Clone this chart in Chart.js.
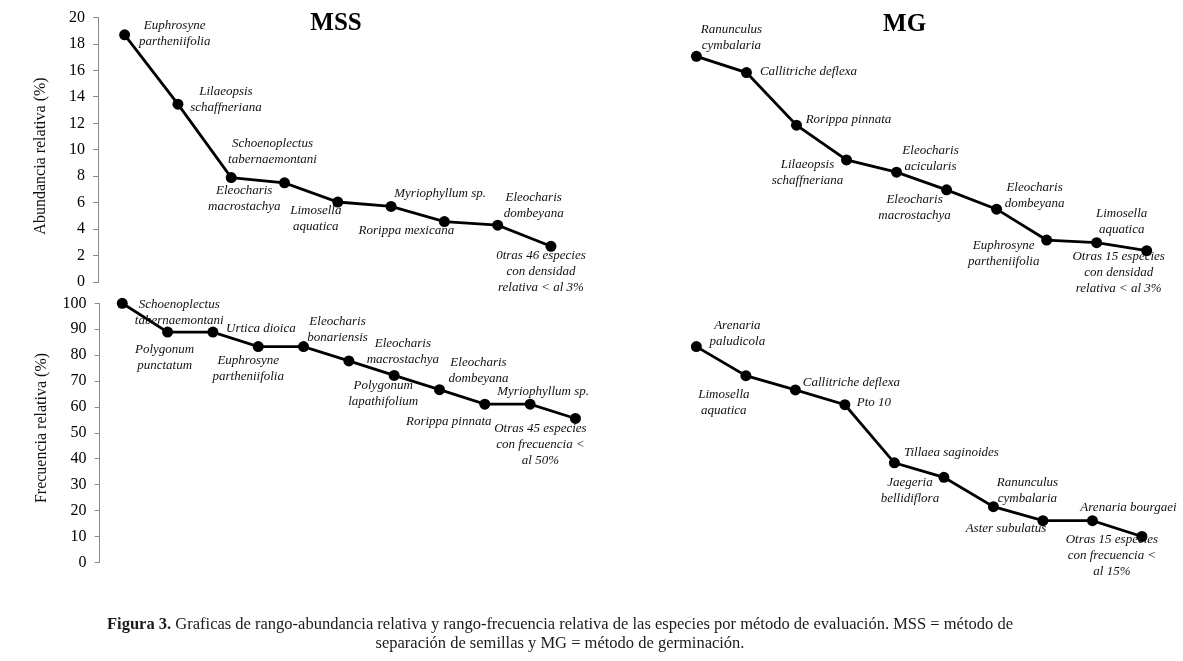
<!DOCTYPE html>
<html>
<head>
<meta charset="utf-8">
<script src="https://cdn.jsdelivr.net/npm/chart.js@4.4.1/dist/chart.umd.min.js"></script>
<style>
html,body{margin:0;padding:0;background:#fff;}
#wrap{position:relative;width:1183px;height:661px;overflow:hidden;background:#fff;}
canvas{position:absolute;left:0;top:0;}
#cap{position:absolute;left:60px;top:615px;width:1000px;text-align:center;font-family:"Liberation Serif",serif;font-size:16.5px;line-height:18.5px;color:#1a1a1a;white-space:nowrap;}
</style>
</head>
<body>
<div id="wrap">
<canvas id="c1" width="1183" height="661"></canvas>
<canvas id="c2" width="1183" height="661"></canvas>
<canvas id="c3" width="1183" height="661"></canvas>
<canvas id="c4" width="1183" height="661"></canvas>
<div id="cap"><b>Figura 3.</b> Graficas de rango-abundancia relativa y rango-frecuencia relativa de las especies por método de evaluación. MSS = método de<br>separación de semillas y MG = método de germinación.</div>
</div>
<script>
// ---------- DATA ----------
const mssAbunCategories = [
  ["Euphrosyne","partheniifolia"],
  ["Lilaeopsis","schaffneriana"],
  ["Eleocharis","macrostachya"],
  ["Schoenoplectus","tabernaemontani"],
  ["Limosella","aquatica"],
  ["Myriophyllum sp."],
  ["Rorippa mexicana"],
  ["Eleocharis","dombeyana"],
  ["0tras 46 especies","con densidad","relativa < al 3%"]
];
const mssAbunValues = [18.7, 13.45, 7.9, 7.5, 6.05, 5.72, 4.57, 4.3, 2.7];

const mgAbunCategories = [
  ["Ranunculus","cymbalaria"],
  ["Callitriche deflexa"],
  ["Rorippa pinnata"],
  ["Lilaeopsis","schaffneriana"],
  ["Eleocharis","acicularis"],
  ["Eleocharis","macrostachya"],
  ["Eleocharis","dombeyana"],
  ["Euphrosyne","partheniifolia"],
  ["Limosella","aquatica"],
  ["Otras 15 especies","con densidad","relativa < al 3%"]
];
const mgAbunValues = [16.95, 15.73, 11.78, 9.17, 8.25, 6.92, 5.47, 3.15, 2.95, 2.35];

const mssFreqCategories = [
  ["Schoenoplectus","tabernaemontani"],
  ["Polygonum","punctatum"],
  ["Urtica dioica"],
  ["Euphrosyne","partheniifolia"],
  ["Eleocharis","bonariensis"],
  ["Eleocharis","macrostachya"],
  ["Polygonum","lapathifolium"],
  ["Eleocharis","dombeyana"],
  ["Rorippa pinnata"],
  ["Myriophyllum sp."],
  ["Otras 45 especies","con frecuencia <","al 50%"]
];
const mssFreqValues = [100, 88.9, 88.9, 83.3, 83.3, 77.8, 72.2, 66.7, 61.1, 61.1, 55.6];

const mgFreqCategories = [
  ["Arenaria","paludicola"],
  ["Limosella","aquatica"],
  ["Callitriche deflexa"],
  ["Pto 10"],
  ["Tillaea saginoides"],
  ["Jaegeria","bellidiflora"],
  ["Ranunculus","cymbalaria"],
  ["Aster subulatus"],
  ["Arenaria bourgaei"],
  ["Otras 15 especies","con frecuencia <","al 15%"]
];
const mgFreqValues = [83.3, 72.1, 66.6, 60.9, 38.5, 32.9, 21.6, 16.2, 16.2, 10.1];

const abunTicks = [0, 2, 4, 6, 8, 10, 12, 14, 16, 18, 20];
const freqTicks = [0, 10, 20, 30, 40, 50, 60, 70, 80, 90, 100];

// ---------- LABEL PLACEMENT (offsets from each point, px) ----------
const mssAbunOffsets = [[50,-9],[48,-13],[13,13],[-12,-39],[-22,9],[49,-13],[-38,9],[36,-28],[-10,9]];
const mgAbunOffsets  = [[35,-27],[62,-1],[52,-6],[-39,5],[34,-22],[-32,10],[38,-22],[-43,6],[25,-29],[-28,6]];
const mssFreqOffsets = [[57,1],[-3,17],[48,-4],[-10,14],[34,-25],[54,-17],[-11,10],[39,-27],[-36,17],[13,-13],[-35,10]];
const mgFreqOffsets  = [[41,-21],[-22,19],[56,-7],[29,-2],[57,-10],[-34,5],[34,-24],[-37,8],[36,-13],[-30,3]];

const SERIF = '"Liberation Serif", "Times New Roman", serif';
const W = 1183, H = 661, AXW = 60;

function annotPlugin(cfg) {
  return {
    id: 'annot_' + Math.random().toString(36).slice(2),
    afterDatasetsDraw(chart) {
      const ctx = chart.ctx;
      const meta = chart.getDatasetMeta(0);
      ctx.save();
      ctx.fillStyle = '#111';
      ctx.textAlign = 'center';
      ctx.textBaseline = 'middle';
      ctx.font = 'italic 13px ' + SERIF;
      meta.data.forEach((pt, i) => {
        const lines = cfg.labels[i];
        const off = cfg.offsets[i];
        lines.forEach((ln, j) => ctx.fillText(ln, pt.x + off[0], pt.y + off[1] + j * 16));
      });
      if (cfg.title) {
        ctx.fillStyle = '#000';
        ctx.font = 'bold 25px ' + SERIF;
        ctx.fillText(cfg.title.text, cfg.title.x, cfg.title.y);
      }
      if (cfg.axisTitle) {
        ctx.fillStyle = '#111';
        ctx.translate(cfg.axisTitle.x, cfg.axisTitle.y);
        ctx.rotate(-Math.PI / 2);
        ctx.font = '16px ' + SERIF;
        ctx.fillText(cfg.axisTitle.text, 0, 0);
      }
      ctx.restore();
    }
  };
}

function makeChart(id, cats, vals, offsets, ticks, area, showAxis, title, axisTitle) {
  const yMax = ticks[ticks.length - 1];
  return new Chart(document.getElementById(id), {
    type: 'line',
    data: {
      labels: cats.map(c => c.join(' ')),
      datasets: [{
        data: vals,
        borderColor: '#000',
        borderWidth: 2.8,
        pointRadius: 5.5,
        pointBackgroundColor: '#000',
        pointBorderColor: '#000',
        pointBorderWidth: 0,
        tension: 0,
        clip: false
      }]
    },
    options: {
      responsive: false,
      animation: false,
      events: [],
      devicePixelRatio: 1,
      layout: {
        padding: {
          left: area.left - AXW,
          right: W - area.right,
          top: area.top,
          bottom: H - area.bottom
        }
      },
      plugins: { legend: { display: false }, tooltip: { enabled: false }, title: { display: false } },
      scales: {
        x: { type: 'category', offset: true, display: false, grid: { display: false } },
        y: {
          display: showAxis,
          min: 0, max: yMax,
          afterBuildTicks: s => { s.ticks = ticks.map(v => ({ value: v })); },
          afterFit: s => { s.width = AXW; },
          ticks: { color: '#000', font: { family: SERIF, size: 16 }, padding: 8 },
          grid: { display: true, drawOnChartArea: false, drawTicks: true, tickLength: 5, color: '#8a8a8a', lineWidth: 1 },
          border: { display: true, color: '#8a8a8a', width: 1 }
        }
      }
    },
    plugins: [annotPlugin({ labels: cats, offsets: offsets, title: title, axisTitle: axisTitle })]
  });
}

makeChart('c1', mssAbunCategories, mssAbunValues, mssAbunOffsets, abunTicks,
  { left: 98, right: 577.6, top: 15.7, bottom: 282 }, true,
  { text: 'MSS', x: 336, y: 24 },
  { text: 'Abundancia relativa (%)', x: 41, y: 156 });

makeChart('c2', mgAbunCategories, mgAbunValues, mgAbunOffsets, abunTicks,
  { left: 671.4, right: 1171.7, top: 15.7, bottom: 282 }, false,
  { text: 'MG', x: 904.6, y: 25 }, null);

makeChart('c3', mssFreqCategories, mssFreqValues, mssFreqOffsets, freqTicks,
  { left: 99.6, right: 598.1, top: 303.3, bottom: 562.7 }, true,
  null,
  { text: 'Frecuencia relativa (%)', x: 42, y: 428 });

makeChart('c4', mgFreqCategories, mgFreqValues, mgFreqOffsets, freqTicks,
  { left: 671.6, right: 1166.7, top: 303.3, bottom: 562.7 }, false,
  null, null);
</script>
</body>
</html>
